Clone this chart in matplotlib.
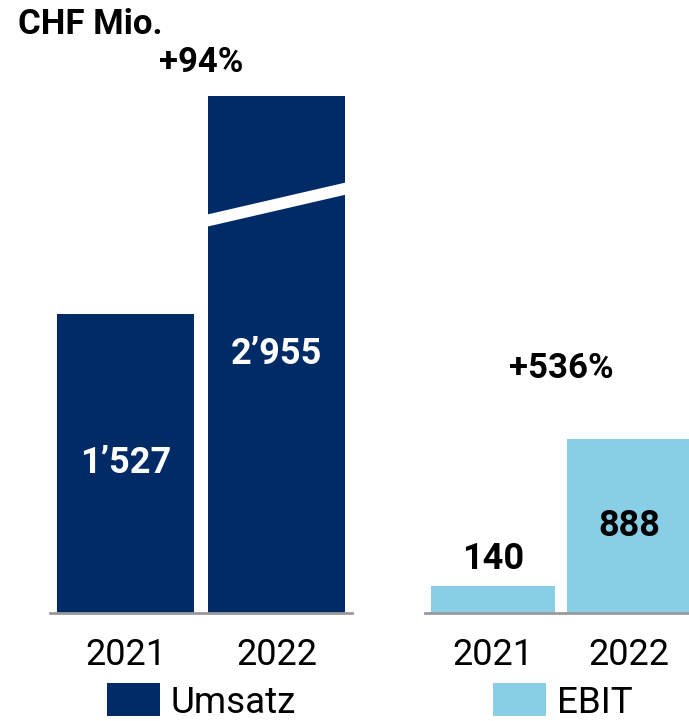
import matplotlib
matplotlib.use("Agg")
import matplotlib.pyplot as plt
from matplotlib.patches import Patch, Polygon

years = ["2021", "2022"]
umsatz = [1527, 2955]
ebit = [140, 888]
umsatz_labels = ["1’527", "2’955"]
ebit_labels = ["140", "888"]
umsatz_growth = "+94%"
ebit_growth = "+536%"
unit_label = "CHF Mio."

NAVY = "#002B66"
LIGHT = "#87CEE6"
GRID = "#999999"

plt.rcParams['font.family'] = ['Roboto', 'DejaVu Sans']

W, H = 689, 721
fig = plt.figure(figsize=(W / 100, H / 100), dpi=100)

ymax = 2638  # visible range (top of axes), Umsatz 2022 is truncated with a break
bottom_px, top_px = 613, 96
ax_bottom = (H - bottom_px) / H
ax_height = (bottom_px - top_px) / H

ax1 = fig.add_axes([50 / W, ax_bottom, 302 / W, ax_height])
ax2 = fig.add_axes([425 / W, ax_bottom, 272 / W, ax_height])

FS = 25
VFS = 26
TFS = 26

for ax, vals, labels, color, xl in [
    (ax1, umsatz, umsatz_labels, NAVY, "Umsatz"),
    (ax2, ebit, ebit_labels, LIGHT, "EBIT"),
]:
    x = list(range(len(vals)))
    ax.bar(x, vals, width=0.91, color=color, zorder=2)
    ax.set_xlim(-0.5, 1.5)
    ax.set_ylim(0, ymax)
    for s in ["top", "left", "right"]:
        ax.spines[s].set_visible(False)
    ax.spines["bottom"].set_color(GRID)
    ax.spines["bottom"].set_linewidth(2)
    ax.set_yticks([])
    ax.set_xticks(x)
    ax.set_xticklabels(years, fontsize=TFS, fontweight="normal")
    ax.tick_params(axis="x", length=0, pad=17)
    ax.patch.set_alpha(0)

# value labels Umsatz (inside bars, white)
for i, (v, lab) in enumerate(zip(umsatz, umsatz_labels)):
    ax1.text(i, min(v, ymax) / 2, lab, ha="center", va="center", color="white",
             fontsize=VFS, fontweight="bold", zorder=4)

# value labels EBIT
for i, (v, lab) in enumerate(zip(ebit, ebit_labels)):
    if v < 400:
        ax2.annotate(lab, (i, v), xytext=(0, 19), textcoords="offset points",
                     ha="center", va="center", color="black", fontsize=VFS, fontweight="bold")
    else:
        ax2.text(i, v / 2, lab, ha="center", va="center", color="black",
                 fontsize=VFS, fontweight="bold", zorder=4)

# break stripe on truncated bar
x0, x1 = 1 - 0.5, 1 + 0.5
yl, yr = 1995, 2173
th = 31
brk = Polygon([[x0, yl - th], [x1, yr - th], [x1, yr + th], [x0, yl + th]],
              closed=True, facecolor="white", edgecolor="none", zorder=3)
ax1.add_patch(brk)

# growth labels
ax1.text(0.5, (bottom_px - 62) / (bottom_px - top_px), umsatz_growth, transform=ax1.get_xaxis_transform(),
         ha="center", va="center", fontsize=FS, fontweight="bold", clip_on=False)
ax2.text(0.5, (bottom_px - 369) / (bottom_px - top_px), ebit_growth, transform=ax2.get_xaxis_transform(),
         ha="center", va="center", fontsize=FS, fontweight="bold", clip_on=False)

fig.text(18 / W, 1 - 25 / H, unit_label, ha="left", va="center", fontsize=FS, fontweight="bold")

# legends
for ax, color, name, xpx in [(ax1, NAVY, "Umsatz", 107), (ax2, LIGHT, "EBIT", 493)]:
    leg = fig.legend(handles=[Patch(facecolor=color, label=name)], loc="center left",
                     bbox_to_anchor=(xpx / W, 1 - 702 / H), frameon=False,
                     prop={"size": 26.5, "weight": "normal"},
                     handlelength=1.43, handleheight=1.0, handletextpad=0.3,
                     borderpad=0, borderaxespad=0)

fig.savefig("out.png", dpi=100)
